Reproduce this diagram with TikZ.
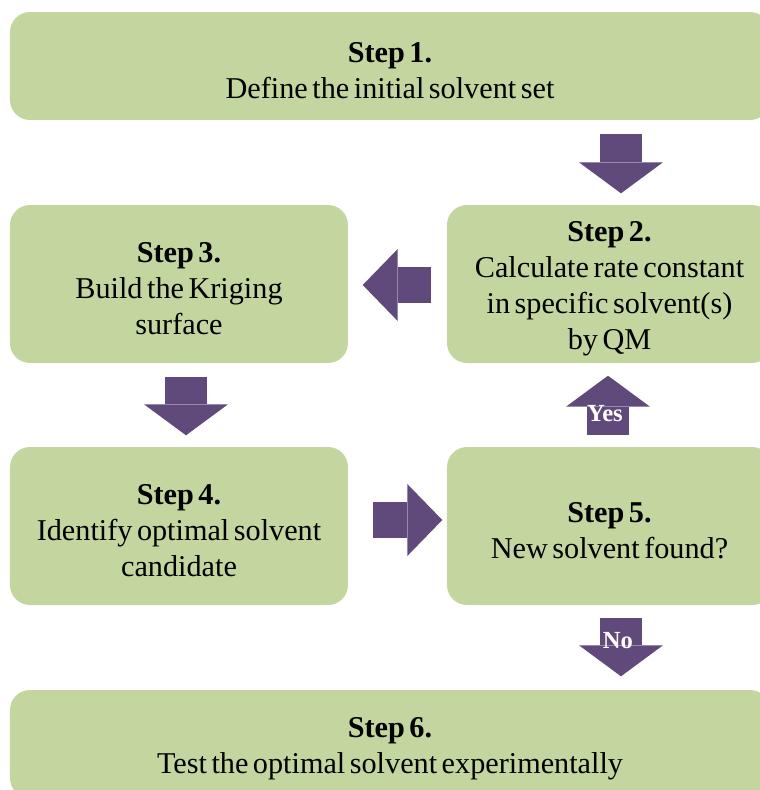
\documentclass[tikz,border=0pt]{standalone}
\usepackage{fontspec}
\setmainfont{Liberation Serif}[WordSpace=0.6]
\usetikzlibrary{arrows.meta,positioning,calc}
\definecolor{cg1}{RGB}{196,214,159}
\definecolor{cp1}{RGB}{96,74,123}
\newcommand{\stp}[1]{\textbf{\rule{0pt}{2.9mm}Step #1.}}

\begin{document}
\begin{tikzpicture}[
  stepbox/.style={fill=cg1,rounded corners=2mm,align=center,inner sep=0pt,
                  font=\fontsize{8.6}{10.2}\selectfont},
  vblk/.style={color=cp1,line width=4.2mm,
               -{Triangle[length=3.1mm,width=8.4mm,line width=0pt]}},
  hblk/.style={color=cp1,line width=3.6mm,
               -{Triangle[length=3.5mm,width=7.2mm,line width=0pt]}},
  lbl/.style={font=\fontsize{7}{8}\selectfont\bfseries,text=white,inner sep=0pt}
]
\useasboundingbox (0,0) rectangle (7.6,-7.9);
\clip (0,0) rectangle (7.6,-7.9);
\node[stepbox,minimum width=7.6cm,minimum height=1.08cm] (s1) at (3.9,-0.66)
  {\stp{1}\\Define the initial solvent set};
\node[stepbox,minimum width=3.25cm,minimum height=1.58cm] (s2) at (6.095,-2.84)
  {\stp{2}\\Calculate rate constant\\in specific solvent(s)\\by QM};
\node[stepbox,minimum width=3.38cm,minimum height=1.58cm] (s3) at (1.79,-2.84)
  {\stp{3}\\Build the Kriging\\surface};
\node[stepbox,minimum width=3.38cm,minimum height=1.58cm] (s4) at (1.79,-5.26)
  {\stp{4}\\Identify optimal solvent\\candidate};
\node[stepbox,minimum width=3.25cm,minimum height=1.58cm] (s5) at (6.095,-5.26)
  {\stp{5}\\New solvent found?};
\node[stepbox,minimum width=7.6cm,minimum height=1.08cm] (s6) at (3.9,-7.44)
  {\stp{6}\\Test the optimal solvent experimentally};
\coordinate (cR) at (6.21,0);
\coordinate (cY) at (6.08,0);
\coordinate (cL) at (1.86,0);
\coordinate (r2) at (0,-2.85);
\coordinate (r4) at (0,-5.20);
\draw[vblk,shorten <=1.3mm,shorten >=1.1mm] (s1.south -| cR) -- (s2.north -| cR);
\draw[hblk,shorten <=1.5mm,shorten >=1.4mm] (s2.west |- r2) -- (s3.east |- r2);
\draw[vblk,shorten <=1.3mm,shorten >=1.1mm] (s3.south -| cL) -- (s4.north -| cL);
\draw[hblk,shorten <=2.4mm,shorten >=0.4mm] (s4.east |- r4) -- (s5.west |- r4);
\draw[vblk,shorten <=1.1mm,shorten >=1.2mm] (s5.north -| cY) --
  node[lbl,pos=0.4,xshift=-0.3mm]{Yes} (s2.south -| cY);
\draw[vblk,shorten <=1.2mm,shorten >=1.3mm] (s5.south -| cR) --
  node[lbl,pos=0.42,xshift=-0.3mm]{No} (s6.north -| cR);
\end{tikzpicture}
\end{document}
